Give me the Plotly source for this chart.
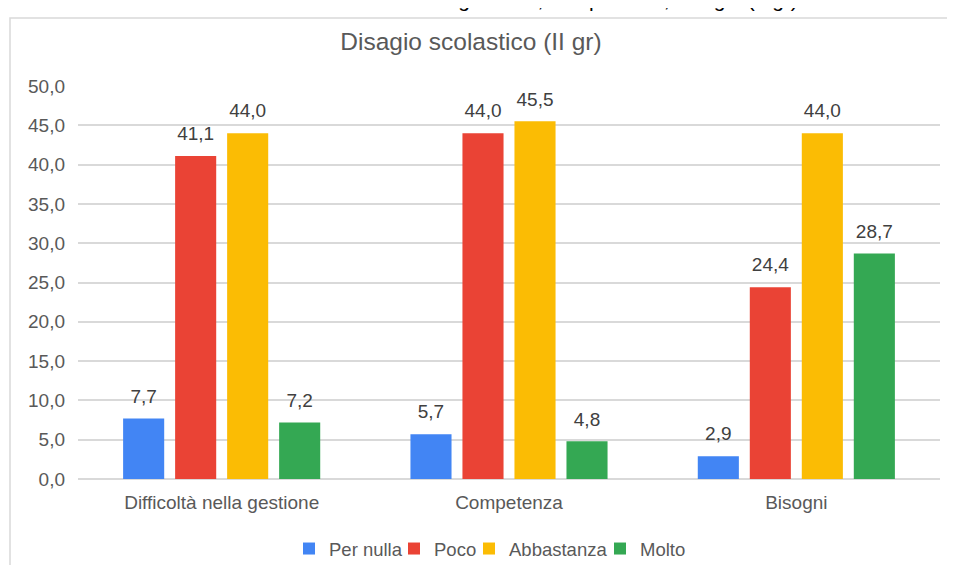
import plotly.graph_objects as go

categories = ["Difficoltà nella gestione", "Competenza", "Bisogni"]
series_names = ["Per nulla", "Poco", "Abbastanza", "Molto"]
per_nulla = [7.7, 5.7, 2.9]
poco = [41.1, 44.0, 24.4]
abbastanza = [44.0, 45.5, 44.0]
molto = [7.2, 4.8, 28.7]
tick_vals = [0, 5, 10, 15, 20, 25, 30, 35, 40, 45, 50]
tick_text = ["0,0", "5,0", "10,0", "15,0", "20,0", "25,0", "30,0", "35,0", "40,0", "45,0", "50,0"]

colors = ["#4285F4", "#EA4335", "#FBBC04", "#34A853"]
values = [per_nulla, poco, abbastanza, molto]
legend_ids = ["legend", "legend2", "legend3", "legend4"]
legend_text_x = [329, 434, 509, 640]   # screen x where each legend label starts
FONT = "Liberation Sans"
TXT = "#595959"

fig = go.Figure()
for name, vals, col, lid in zip(series_names, values, colors, legend_ids):
    fig.add_trace(go.Bar(
        name=name, x=categories, y=vals, marker_color=col, marker_line_width=0, legend=lid,
    ))
for name, vals in zip(series_names, values):
    fig.add_trace(go.Scatter(
        x=categories, y=vals, mode="markers+text", showlegend=False, hoverinfo="skip",
        marker=dict(size=16, color="rgba(0,0,0,0)"),
        text=[f"{v:.1f}".replace(".", ",") for v in vals],
        textposition="top center", cliponaxis=False,
        textfont=dict(size=19, color="#404040", family=FONT),
    ))

# the page body has an 8px margin; keep the figure inside the window
OFF = 8
W, H = 955 - 2 * OFF, 573 - 2 * OFF
L, R, T, B = 70, 7, 78, 86
pw, ph = W - L - R, H - T - B

def px(x):
    return (x - OFF - L) / pw

def py(y):
    return (H - B - (y - OFF)) / ph

def cx(x):
    return (x - OFF) / W

def cy(y):
    return (H - (y - OFF)) / H

legends = {}
for lid, tx in zip(legend_ids, legend_text_x):
    legends[lid] = dict(orientation="h", xref="container", yref="container",
                        x=cx(tx - 40), xanchor="left", y=cy(549), yanchor="middle",
                        font=dict(size=18.5, color=TXT, family=FONT), itemwidth=30,
                        bgcolor="rgba(0,0,0,0)", borderwidth=0)

fig.update_layout(
    width=W, height=H,
    margin=dict(l=L, r=R, t=T, b=B),
    paper_bgcolor="white", plot_bgcolor="white",
    barmode="group", bargap=0.276, bargroupgap=0.21,
    scattermode="group", scattergap=0.276,
    font=dict(family=FONT, color=TXT, size=19),
    title=dict(text="Disagio scolastico (II gr)", x=px(503), xanchor="center",
               y=1 - (41 - OFF) / H, yanchor="middle",
               font=dict(size=24.5, color=TXT, family=FONT)),
    showlegend=True,
    xaxis=dict(showline=False, ticks="", tickfont=dict(size=19, color=TXT), ticklabelstandoff=10),
    yaxis=dict(range=[0, 50], tickvals=tick_vals, ticktext=tick_text,
               showgrid=True, gridcolor="#D9D9D9", gridwidth=1.5,
               zeroline=True, zerolinecolor="#D9D9D9", zerolinewidth=1.5,
               tickfont=dict(size=19, color=TXT), ticks="", ticklabelstandoff=12),
    shapes=[dict(type="rect", xref="paper", yref="paper",
                 x0=px(10), x1=px(1000), y0=py(640), y1=py(18),
                 line=dict(color="#D9D9D9", width=1.5), fillcolor="rgba(0,0,0,0)", layer="below")],
    annotations=[dict(text="Difficoltà nella gestione, competenza, bisogni (II gr)",
                      xref="paper", yref="paper", x=px(560), y=py(13), xanchor="center",
                      yanchor="bottom", showarrow=False,
                      font=dict(size=21, color="#000000", family=FONT))],
    **legends,
)

fig.write_html("out.html")
